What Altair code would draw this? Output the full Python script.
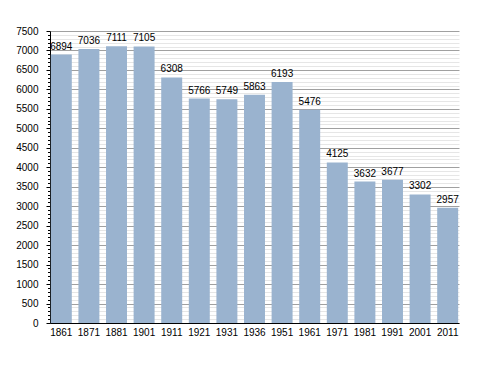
import altair as alt
import pandas as pd

years = ["1861", "1871", "1881", "1901", "1911", "1921", "1931", "1936",
         "1951", "1961", "1971", "1981", "1991", "2001", "2011"]
population = [6894, 7036, 7111, 7105, 6308, 5766, 5749, 5863,
              6193, 5476, 4125, 3632, 3677, 3302, 2957]

df = pd.DataFrame({"year": years, "pop": population})

tick_values = list(range(0, 7501, 100))
FONT = "Liberation Sans"

x = alt.X("year:N", sort=years, title=None,
          scale=alt.Scale(paddingInner=0.24, paddingOuter=0.03),
          axis=alt.Axis(labelAngle=0, ticks=False, domainColor="black",
                        labelColor="black", labelFont=FONT, labelFontSize=10,
                        labelPadding=4))
y = alt.Y("pop:Q", title=None,
          scale=alt.Scale(domain=[0, 7500], nice=False),
          axis=alt.Axis(values=tick_values,
                        labelExpr="datum.value % 500 === 0 ? datum.label : ''",
                        labelOverlap=False, labelFont=FONT, labelFontSize=10,
                        labelColor="black", labelPadding=8,
                        domainColor="black", tickColor="black",
                        tickSize=alt.condition("datum.value % 500 === 0", alt.value(4), alt.value(2.5)),
                        gridColor=alt.condition("datum.value % 500 === 0", alt.value("#a0a0a0"), alt.value("#e6e6e6")),
                        format="d"))

base = alt.Chart(df).encode(x=x, y=y)
bars = base.mark_bar(color="#9ab3cf")
labels = base.mark_text(baseline="bottom", dy=-3, font=FONT,
                        fontSize=10, color="black").encode(text="pop:Q")

chart = (bars + labels).properties(
    width=409, height=292,
    autosize=alt.AutoSizeParams(type="none"),
    padding={"left": 42, "top": 23, "right": 21, "bottom": 42},
).configure(background="white").configure_view(stroke=None)

chart.save("out.html", embed_options={"renderer": "svg", "actions": False})
